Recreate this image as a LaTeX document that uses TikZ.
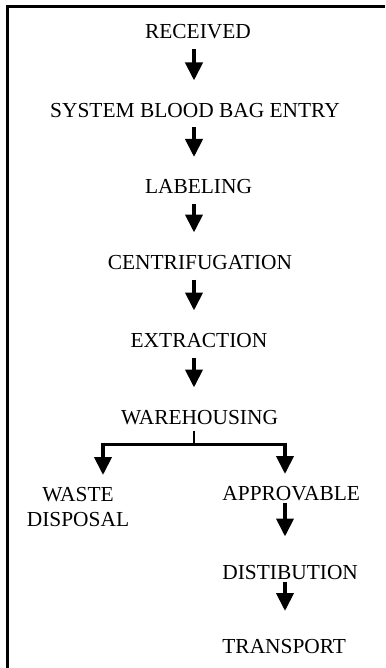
\documentclass[tikz,border=0pt]{standalone}
\usepackage{fontspec}
\setmainfont{Liberation Serif}
\usetikzlibrary{arrows.meta}

\begin{document}
\begin{tikzpicture}[x=0.5pt, y=-0.5pt, >={Triangle[width=8.5pt,length=9pt]},
  lbl/.style={inner sep=0pt, font=\fontsize{10.7}{12.5}\selectfont},
  stage/.style={lbl, text height=7.1pt, text depth=0pt},
  flow/.style={->, line width=2pt, shorten <=5pt, shorten >=11pt},
  sideflow/.style={->, line width=2pt, shorten <=1pt, shorten >=14pt},
  drop/.style={->, line width=2pt, shorten >=6pt}]

\useasboundingbox (0,0) rectangle (385,668);
\draw[line width=1.5pt] (7,668) |- (385,7);

\node[stage] (rec) at (198,31.5) {RECEIVED};
\node[stage] (sys) at (195,110) {SYSTEM BLOOD BAG ENTRY};
\node[stage] (lab) at (198.5,186.5) {LABELING};
\node[stage] (cen) at (200,262) {CENTRIFUGATION};
\node[stage] (ext) at (199,340) {EXTRACTION};
\node[stage] (war) at (199.5,417) {WAREHOUSING};

\coordinate (axis) at (194,0);
\draw[flow] (rec.south -| axis) -- (sys.north -| axis);
\draw[flow] (sys.south -| axis) -- (lab.north -| axis);
\draw[flow] (lab.south -| axis) -- (cen.north -| axis);
\draw[flow] (cen.south -| axis) -- (ext.north -| axis);
\draw[flow] (ext.south -| axis) -- (war.north -| axis);

\coordinate (split) at (194,444);
\coordinate (lft) at (103,444);
\coordinate (rgt) at (285,444);
\draw[line width=0.75pt, shorten <=3pt] (war.south -| split) -- (split);
\draw[line width=1.5pt] (lft) -- (rgt);

\node[lbl, align=center, anchor=north] (waste) at (78,487) {WASTE\\DISPOSAL};
\node[stage, anchor=west] (appr) at (222,493.5) {APPROVABLE};
\node[stage, anchor=west] (dist) at (222,572) {DISTIBUTION};
\node[stage, anchor=west] (trans) at (222,646.5) {TRANSPORT};

\draw[drop] ([yshift=0.75pt]lft) -- (waste.north -| lft);
\draw[drop] ([yshift=0.75pt]rgt) -- (appr.north -| rgt);
\draw[sideflow] (appr.south -| rgt) -- (dist.north -| rgt);
\draw[sideflow] (dist.south -| rgt) -- (trans.north -| rgt);

\end{tikzpicture}
\end{document}
